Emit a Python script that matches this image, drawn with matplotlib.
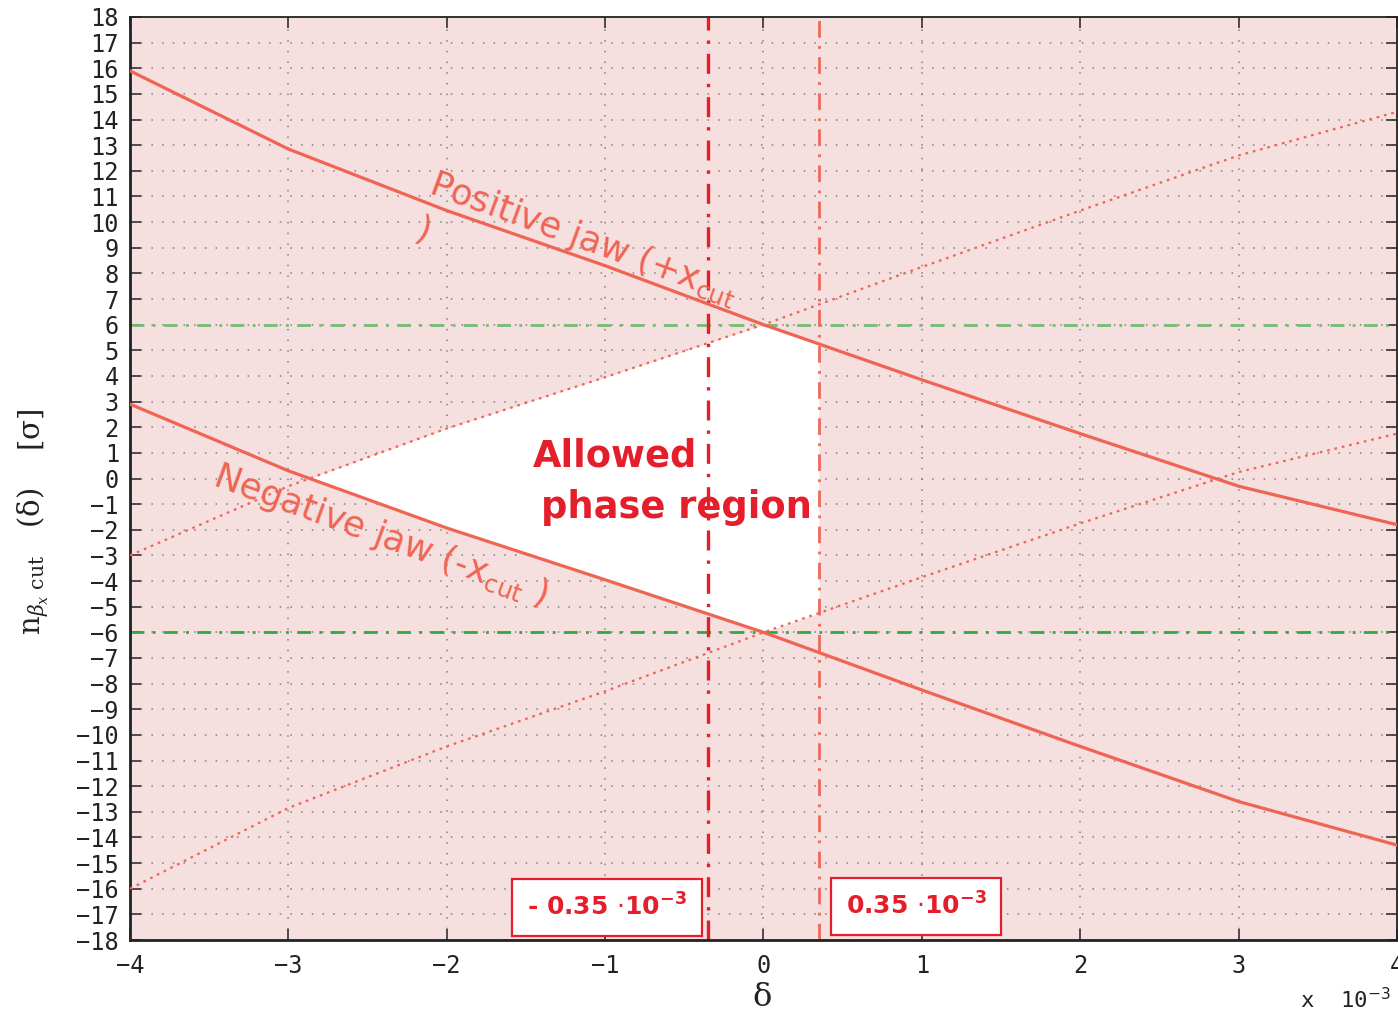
import numpy as np
import matplotlib
matplotlib.use("Agg")
import matplotlib.pyplot as plt

# Momentum offset delta (units of 1e-3)
delta = [-4, -3, -2, -1, 0, 1, 2, 3, 4]

# Normalised cut position seen by each collimator jaw [sigma]
positive_jaw = [15.9, 12.85, 10.45, 8.3, 6.0, 3.85, 1.75, -0.3, -1.8]
negative_jaw = [2.9, 0.3, -1.93, -3.95, -6.0, -8.25, -10.45, -12.6, -14.3]

# Opposite-phase images of the jaws
upper_mirror = [-3.0, -0.3, 1.95, 3.95, 6.0, 8.25, 10.45, 12.6, 14.3]
lower_mirror = [-16.0, -12.85, -10.45, -8.3, -6.0, -3.85, -1.75, 0.25, 1.75]

# Momentum cut and aperture limit
delta_cut = 0.35
n_limit = 6

x_ticks = list(range(-4, 5))
y_ticks = list(range(-18, 19))

pink = "#f5dfdf"
salmon = "#ef6452"
red = "#e41e2b"

fig = plt.figure(figsize=(13.98, 10.14), dpi=100)
ax = fig.add_axes([130 / 1398, 1 - 940 / 1014, (1397 - 130) / 1398, (940 - 17) / 1014])
ax.set_facecolor(pink)
ax.set_axisbelow(True)

# Allowed phase region
xs = np.linspace(-4, delta_cut, 3000)
lo = np.maximum(np.interp(xs, delta, negative_jaw), np.interp(xs, delta, lower_mirror))
hi = np.minimum(np.interp(xs, delta, positive_jaw), np.interp(xs, delta, upper_mirror))
ax.fill_between(xs, lo, hi, where=hi >= lo, interpolate=True, color="white", lw=0, zorder=1)

# Jaw curves
ax.plot(delta, positive_jaw, color=salmon, lw=2.3, zorder=3)
ax.plot(delta, negative_jaw, color=salmon, lw=2.3, zorder=3)
ax.plot(delta, upper_mirror, color=salmon, lw=1.6, ls=(0, (1.2, 2.2)), zorder=3)
ax.plot(delta, lower_mirror, color=salmon, lw=1.6, ls=(0, (1.2, 2.2)), zorder=3)

# Aperture limits
ax.axhline(n_limit, color="#74bd74", lw=2, ls=(0, (5, 3, 1, 3)), zorder=2)
ax.axhline(-n_limit, color="#30a940", lw=2, ls=(0, (5, 3, 1, 3)), zorder=2)

# Momentum cut lines
ax.axvline(-delta_cut, color=red, lw=2.4, ls=(0, (6, 3, 1, 3)), zorder=2)
ax.axvline(delta_cut, color="#ec6a5c", lw=2.0, ls=(0, (6, 3, 1, 3)), zorder=2)

ax.set_xlim(-4, 4)
ax.set_ylim(-18, 18)
ax.set_xticks(x_ticks)
ax.set_yticks(y_ticks)
tick_font = {"family": "DejaVu Sans Mono", "size": 17}
ax.set_xticklabels([f"{v}".replace("-", "\u2212") for v in x_ticks], fontdict=tick_font)
ax.set_yticklabels([f"{v}".replace("-", "\u2212") for v in y_ticks], fontdict=tick_font)
ax.tick_params(direction="in", length=8, width=1.2, top=True, right=True, colors="#333333",
               labelcolor="#222222", pad=8)
ax.tick_params(axis="x", pad=10)
ax.grid(True, color="#808080", lw=1.1, ls=(0, (1, 6)))
for side in ["left", "bottom", "top", "right"]:
    ax.spines[side].set_linewidth(2 if side in ("left", "bottom") else 1.3)
    ax.spines[side].set_color("#222222")

# Annotations
ax.text(-1.135, 9.35, r"Positive jaw (+x$_{\rm cut}$", color=salmon, fontsize=25.5,
        rotation=-20, ha="center", va="center", rotation_mode="anchor", zorder=4)
ax.text(-2.15, 9.65, ")", color=salmon, fontsize=25.5, rotation=-20,
        ha="center", va="center", rotation_mode="anchor", zorder=4)
ax.text(-2.42, -2.24, r"Negative jaw (-x$_{\rm cut}$ )", color=salmon, fontsize=25.5,
        rotation=-20, ha="center", va="center", rotation_mode="anchor", zorder=4)
ax.text(-0.94, 0.89, "Allowed", color=red, fontsize=26.5, fontweight="bold",
        ha="center", va="center", zorder=4)
ax.text(-0.55, -1.14, "phase region", color=red, fontsize=26.5, fontweight="bold",
        ha="center", va="center", zorder=4)

box = dict(boxstyle="square,pad=0.6", facecolor="white", edgecolor=red, lw=1.6)
ax.text(-0.99, -16.72, r"- 0.35 $\cdot$10$^{\mathbf{-3}}$", color=red, fontsize=18,
        fontweight="bold", ha="center", va="center", bbox=box, zorder=5)
ax.text(0.963, -16.68, r"0.35 $\cdot$10$^{\mathbf{-3}}$", color=red, fontsize=18,
        fontweight="bold", ha="center", va="center", bbox=box, zorder=5)

# Axis labels
fig.text(0.024, 1 - 522 / 1014,
         r"$\mathregular{n}_{\beta_{x}\ \mathregular{cut}}$   (δ)    [σ]",
         rotation=90, ha="center", va="center", fontsize=21, family="DejaVu Serif",
         math_fontfamily="dejavuserif", color="#222222")
fig.text(762 / 1398, 1 - 998 / 1014, "δ", ha="center", va="center",
         fontsize=23, family="DejaVu Serif", color="#222222")
fig.text(1300 / 1398, 1 - 1000 / 1014, r"x  10$^{-3}$", ha="left", va="center",
         fontsize=16, family="DejaVu Sans Mono", color="#222222")

fig.savefig("out.png", dpi=100, facecolor="white")
